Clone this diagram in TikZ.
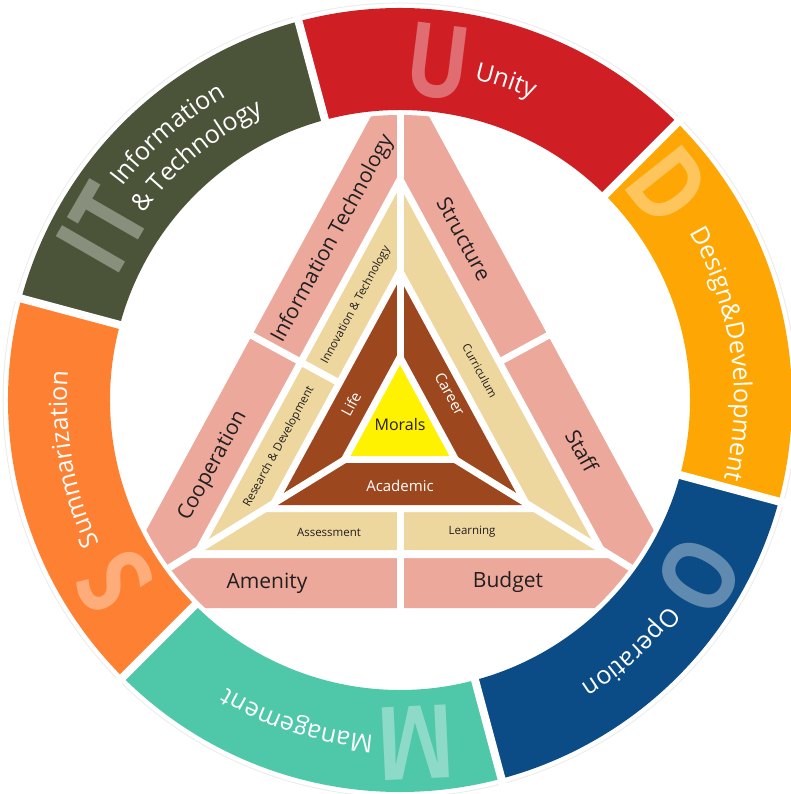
\documentclass[tikz,border=0pt]{standalone}
\usepackage{fontspec}
\setmainfont{Open Sans}
\usetikzlibrary{decorations.text}

\definecolor{ringred}{HTML}{CF1F25}
\definecolor{ringolive}{HTML}{4B5338}
\definecolor{ringamber}{HTML}{FDA604}
\definecolor{ringblue}{HTML}{0C4C86}
\definecolor{ringteal}{HTML}{4FC7A9}
\definecolor{ringorange}{HTML}{FE8133}
\definecolor{trpink}{HTML}{EBA89B}
\definecolor{trbeige}{HTML}{EDD79E}
\definecolor{trbrown}{HTML}{9C471D}
\definecolor{tryellow}{HTML}{FFF200}
\definecolor{trtext}{HTML}{231F20}

\newcommand{\ringfont}{\fontsize{25}{25}\selectfont}
% triangle with apex (0,#1) and base at y=#2, sides at 61.5 degrees
\newcommand{\trisides}[2]{(0,#1) -- ({-0.543*((#1)-(#2))},#2) -- ({0.543*((#1)-(#2))},#2) -- cycle}

\tikzset{
  bigletter/.style={text=white, opacity=0.35, xscale=0.82, inner sep=0pt,
    font=\fontsize{102}{102}\selectfont\bfseries},
  ringtext/.style={decorate, decoration={text along path, text align=left,
    text color=white, text={|\ringfont|#1}}},
  mainlbl/.style={text=trtext, inner sep=0pt, font=\fontsize{21}{21}\selectfont},
  sublbl/.style={text=trtext, inner sep=0pt, font=\fontsize{11.5}{11.5}\selectfont},
  corelbl/.style={text=white, inner sep=0pt, font=\fontsize{15}{15}\selectfont},
  morallbl/.style={text=trtext, inner sep=0pt, font=\fontsize{16}{16}\selectfont},
  gapline/.style={white, line width=7pt}
}

\begin{document}
\begin{tikzpicture}[x=1pt, y=1pt]
\useasboundingbox (-400,-394) rectangle (390,400);

% Outer ring
\draw[black!7, line width=1pt] (0,0) circle[radius=397];
\foreach \a/\c in {45/ringred, 105/ringolive, 165/ringorange, 225/ringteal, 285/ringblue, 345/ringamber}
  \fill[\c] (\a:290) arc[start angle=\a, end angle=\a+60, radius=290]
    -- ({\a+60}:392) arc[start angle=\a+60, end angle=\a, radius=392] -- cycle;
\foreach \a in {45,105,...,345}
  \draw[white, line width=8pt] (\a:282) -- (\a:400);

% Unity
\node[rotate=-7, bigletter] (bigU) at (83.5:340) {U};
\path[ringtext={Unity}] (77:329) arc[start angle=77, end angle=40, radius=329];

% Information & Technology
\node[rotate=60, bigletter] (bigIT) at (150:343) {IT};
\path[ringtext={Information}] (142.5:350) arc[start angle=142.5, end angle=100, radius=350];
\path[ringtext={{\&} Technology}] (144:317) arc[start angle=144, end angle=100, radius=317];

% Design & Development
\node[rotate=-51.5, bigletter] (bigD) at (38.5:343) {D};
\path[ringtext={Design{\&}Development}] (30:334) arc[start angle=30, end angle=-30, radius=334];

% Operation
\node[rotate=-120.5, bigletter] (bigO) at (-30.5:347) {O};
\path[ringtext={Operation}] (-37.5:338) arc[start angle=-37.5, end angle=-80, radius=338];

% Management
\node[rotate=182.7, bigletter] (bigM) at (272.7:343) {M};
\path[ringtext={Management}] (265.5:336) arc[start angle=265.5, end angle=225, radius=336];

% Summarization
\node[rotate=122.5, bigletter] (bigS) at (212.5:339) {S};
\path[ringtext={Summarization}] (205.5:333) arc[start angle=205.5, end angle=160, radius=333];

% Triangle layers
\begin{scope}
  \clip (0,0) circle[radius=285];
  \fill[trpink] \trisides{337}{-208};
  \fill[white] \trisides{228}{-158};
  \fill[trbeige] \trisides{213}{-150};
  \fill[white] \trisides{136}{-112};
  \fill[trbrown] \trisides{121}{-105};
  \fill[white] \trisides{50}{-63};
  % splits
  \draw[gapline] (0,290) -- (0,38);
  \draw[gapline] (0,-290) -- (0,-108.5);
  \draw[gapline] (-296,-208) -- (-49.4,-56);
  \draw[gapline] (296,-208) -- (49.4,-56);
  \draw[gapline] (-165.6,74) -- (-61,17.2);
  \draw[gapline] (165.6,74) -- (99.2,38);
  \fill[tryellow] \trisides{35}{-56};
\end{scope}

% Triangle labels
\node[mainlbl, rotate=61.5] (lblIT) at (-67,161) {Information Technology};
\node[mainlbl, rotate=-61.5] (lblStructure) at (64,161) {Structure};
\node[mainlbl, rotate=61.5] (lblCoop) at (-187,-66) {Cooperation};
\node[mainlbl, rotate=-61.5] (lblStaff) at (182,-51) {Staff};
\node[mainlbl] (lblAmenity) at (-133,-183) {Amenity};
\node[mainlbl] (lblBudget) at (108,-182) {Budget};
\node[sublbl, rotate=61.5] (lblInno) at (-44,95) {Innovation \& Technology};
\node[sublbl, rotate=61.5] (lblRD) at (-121,-47) {Research \& Development};
\node[sublbl, rotate=-61.5] (lblCurr) at (80,29) {Curriculum};
\node[sublbl] (lblAssess) at (-71,-132) {Assessment};
\node[sublbl] (lblLearn) at (72,-132) {Learning};
\node[corelbl, rotate=61.5] (lblLife) at (-49,-4) {Life};
\node[corelbl, rotate=-61.5] (lblCareer) at (50,6) {Career};
\node[corelbl] (lblAcad) at (0,-86) {Academic};
\node[morallbl] (lblMorals) at (0,-25) {Morals};
\end{tikzpicture}
\end{document}
